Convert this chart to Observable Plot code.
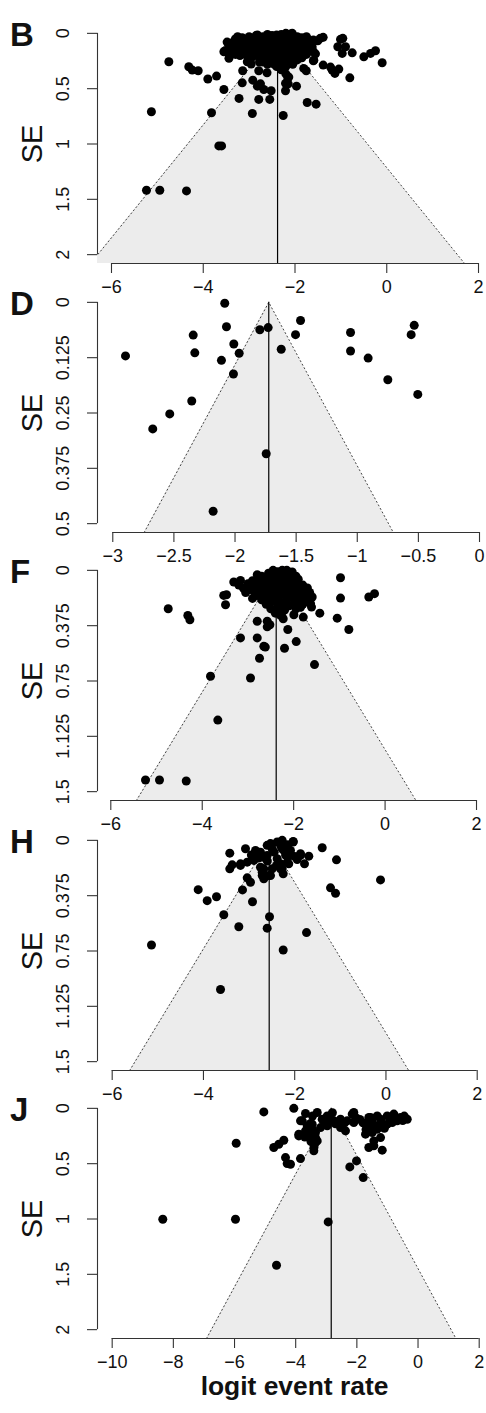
<!DOCTYPE html>
<html><head><meta charset="utf-8">
<script src="https://cdn.jsdelivr.net/npm/d3@7"></script>
<script src="https://cdn.jsdelivr.net/npm/@observablehq/plot@0.6"></script>
<style>
body{margin:0;background:#fff;}
#wrap{position:relative;width:486px;height:1413px;overflow:hidden;background:#fff;}
#wrap svg{position:absolute;left:0;}
</style></head><body><div id="wrap"></div>
<script>
// ---- data: [logit event rate, SE] per study ----
const panelB = [[-4.75,0.257],[-4.315,0.302],[-4.24,0.332],[-4.11,0.338],[-3.90,0.413],[-3.71,0.386],[-3.55,0.507],[-5.13,0.709],[-3.82,0.718],[-3.22,0.588],[-2.93,0.724],[-2.257,0.742],[-3.66,1.017],[-3.60,1.017],[-5.237,1.418],[-4.947,1.418],[-4.365,1.424],[-1.734,0.625],[-1.54,0.640],[-1.967,0.477],[-2.207,0.519],[-2.207,0.452],[-2.157,0.398],[-2.27,0.32],[-2.55,0.597],[-2.79,0.597],[-2.52,0.519],[-2.68,0.507],[-2.82,0.477],[-2.92,0.423],[-3.15,0.447],[-3.14,0.338],[-2.79,0.338],[-2.61,0.356],[-3.04,0.257],[-2.955,0.278],[-3.456,0.166],[-3.44,0.226],[-1.81,0.317],[-1.755,0.338],[-1.59,0.242],[-1.386,0.287],[-1.19,0.332],[-1.045,0.323],[-1.13,0.362],[-0.805,0.402],[-0.5,0.212],[-0.354,0.181],[-0.245,0.157],[-0.10,0.266],[-0.753,0.176],[-1.008,0.054],[-0.958,0.045],[-1.067,0.121],[-0.899,0.121],[-0.971,0.181],[-1.386,0.036],[-1.503,0.067],[-1.625,0.09],[-1.6,0.166],[-1.6,0.248],[-2.752,0.456],[-2.774,0.26],[-2.2,0.366],[-2.135,0.395],[-2.148,0.456],[-1.226,0.305],[-1.553,0.185],[-1.625,0.124],[-1.734,0.049],
[-3.48,0.079],[-3.515,0.154],[-3.44,0.185],[-3.33,0.109],[-3.26,0.063],[-3.55,0.166],
[-3.3,0.05],[-3.15,0.04],[-3.0,0.03],[-2.85,0.02],[-2.7,0.03],[-2.6,0.01],[-2.5,0.02],[-2.4,0.015],[-2.3,0.01],[-2.2,0.0],[-2.1,0.005],[-2.05,0.02],[-1.95,0.03],[-1.85,0.04],[-1.75,0.03],[-2.82,0.015],[-2.06,0],[-1.45,0.045],
[-3.45,0.09],[-3.35,0.08],[-3.2,0.07],[-3.05,0.09],[-2.9,0.06],[-2.75,0.07],[-2.65,0.06],[-2.55,0.08],[-2.45,0.05],[-2.35,0.07],[-2.25,0.06],[-2.15,0.05],[-2.05,0.07],[-1.95,0.06],[-1.85,0.08],[-1.7,0.07],[-1.6,0.06],
[-3.35,0.13],[-3.2,0.12],[-3.1,0.15],[-2.95,0.13],[-2.85,0.11],[-2.7,0.12],[-2.6,0.14],[-2.5,0.11],[-2.4,0.13],[-2.3,0.12],[-2.2,0.1],[-2.1,0.13],[-2.0,0.11],[-1.9,0.12],[-1.8,0.14],[-1.7,0.12],
[-3.3,0.19],[-3.05,0.2],[-2.9,0.18],[-2.75,0.21],[-2.6,0.19],[-2.5,0.17],[-2.4,0.2],[-2.3,0.18],[-2.2,0.21],[-2.1,0.19],[-2.0,0.17],[-1.9,0.2],[-1.75,0.19],
[-2.7,0.26],[-2.55,0.25],[-2.45,0.28],[-2.35,0.24],[-2.25,0.27],[-2.15,0.25],[-2.05,0.28],[-1.95,0.24],
[-3.25,0.03],[-3.1,0.06],[-2.95,0.045],[-2.8,0.05],[-2.65,0.035],[-2.55,0.045],[-2.45,0.03],[-2.35,0.04],[-2.25,0.03],[-2.15,0.025],[-2.0,0.045],[-1.9,0.05],[-1.8,0.055],
[-3.4,0.11],[-3.25,0.1],[-3.15,0.11],[-3.0,0.11],[-2.8,0.095],[-2.65,0.1],[-2.55,0.095],[-2.45,0.1],[-2.35,0.1],[-2.25,0.09],[-2.15,0.085],[-2.05,0.095],[-1.95,0.09],[-1.85,0.105],[-1.75,0.1],[-1.65,0.095],
[-3.4,0.16],[-3.25,0.15],[-3.0,0.16],[-2.8,0.15],[-2.65,0.165],[-2.55,0.155],[-2.45,0.16],[-2.35,0.155],[-2.25,0.15],[-2.15,0.155],[-2.05,0.16],[-1.95,0.15],[-1.85,0.17],[-1.7,0.16],
[-3.2,0.2],[-2.95,0.22],[-2.85,0.2],[-2.65,0.225],[-2.55,0.21],[-2.45,0.23],[-2.35,0.21],[-2.25,0.23],[-2.15,0.22],[-2.05,0.23],[-1.95,0.21],[-1.85,0.22],
[-2.6,0.28],[-2.4,0.3],[-2.3,0.29],[-2.2,0.3],[-2.1,0.27],[-2.3,0.33]];

const panelD = [[-2.084,0.002],[-2.07,0.055],[-2.342,0.074],[-2.896,0.121],[-2.329,0.114],[-2.01,0.094],[-1.966,0.115],[-2.111,0.131],[-2.013,0.162],[-1.797,0.062],[-1.729,0.057],[-1.464,0.041],[-1.505,0.073],[-1.622,0.106],[-1.055,0.068],[-1.055,0.11],[-0.911,0.126],[-0.75,0.175],[-0.534,0.052],[-0.559,0.073],[-0.505,0.208],[-2.354,0.223],[-2.534,0.252],[-2.673,0.286],[-1.745,0.342],[-2.179,0.472]];

const panelF = [[-4.744,0.26],[-4.315,0.306],[-4.27,0.335],[-3.469,0.165],[-3.49,0.233],[-3.53,0.17],[-3.163,0.458],[-2.797,0.458],[-2.797,0.345],[-2.578,0.345],[-2.52,0.369],[-2.653,0.515],[-2.62,0.52],[-2.747,0.596],[-3.819,0.718],[-2.944,0.73],[-3.659,1.015],[-5.241,1.421],[-4.935,1.421],[-4.35,1.428],[-2.2,0.528],[-1.944,0.483],[-2.128,0.401],[-2.228,0.328],[-2.266,0.306],[-1.544,0.639],[-1.79,0.317],[-1.996,0.301],[-1.428,0.29],[-1.609,0.249],[-0.793,0.401],[-1.047,0.324],[-0.975,0.188],[-0.975,0.05],[-0.356,0.181],[-0.231,0.158],[-2.797,0.03],[-3.31,0.079],[-3.163,0.068],[-2.032,0.011],[-1.63,0.226],[-1.594,0.181],[-2.578,0.383],[-2.287,0.304],[-2.215,0.27],
[-2.7,0.04],[-2.55,0.02],[-2.45,0.03],[-2.35,0.01],[-2.25,0.02],[-2.15,0.0],[-2.05,0.02],[-1.95,0.04],[-2.6,0.05],[-2.3,0.045],
[-3.0,0.09],[-2.9,0.07],[-2.8,0.08],[-2.7,0.1],[-2.6,0.08],[-2.5,0.07],[-2.4,0.09],[-2.3,0.08],[-2.2,0.06],[-2.1,0.08],[-2.0,0.07],[-1.9,0.09],[-1.8,0.1],
[-3.05,0.15],[-2.95,0.13],[-2.85,0.15],[-2.75,0.13],[-2.65,0.15],[-2.55,0.12],[-2.45,0.14],[-2.35,0.13],[-2.25,0.15],[-2.15,0.12],[-2.05,0.14],[-1.95,0.13],[-1.85,0.15],[-1.75,0.14],[-1.65,0.15],
[-2.9,0.19],[-2.7,0.2],[-2.55,0.18],[-2.45,0.21],[-2.35,0.19],[-2.25,0.22],[-2.15,0.2],[-2.05,0.18],[-1.95,0.21],[-1.85,0.19],[-1.75,0.2],
[-2.5,0.26],[-2.35,0.25],[-2.2,0.27],[-2.1,0.24],[-1.95,0.26],[-1.85,0.25],[-2.4,0.29],
[-3.2,0.1],[-3.1,0.12],[-2.95,0.1],[-2.85,0.11],[-2.75,0.07],[-2.65,0.11],[-2.55,0.1],[-2.45,0.11],[-2.35,0.1],[-2.25,0.11],[-2.15,0.1],[-2.05,0.11],[-1.95,0.1],[-1.85,0.12],[-1.7,0.12],
[-2.8,0.17],[-2.6,0.17],[-2.5,0.15],[-2.4,0.16],[-2.3,0.17],[-2.2,0.16],[-2.1,0.17],[-2.0,0.16],[-1.9,0.17],[-1.8,0.17],[-1.7,0.18],
[-2.65,0.06],[-2.5,0.05],[-2.4,0.06],[-2.2,0.04],[-2.1,0.05],[-2.0,0.05],[-1.9,0.06],[-2.45,0.0],[-2.25,0.0],
[-2.6,0.23],[-2.3,0.23],[-2.0,0.23],[-1.8,0.23]];

const panelH = [[-5.139,0.709],[-3.626,1.011],[-2.252,0.743],[-1.741,0.625],[-3.225,0.586],[-2.603,0.595],[-2.552,0.518],[-3.554,0.504],[-2.925,0.416],[-3.918,0.409],[-3.714,0.382],[-4.115,0.334],[-3.144,0.336],[-3.041,0.254],[-2.969,0.284],[-2.677,0.261],[-2.53,0.239],[-2.712,0.216],[-2.252,0.227],[-2.274,0.193],[-1.785,0.159],[-1.215,0.322],[-1.105,0.359],[-1.084,0.132],[-0.119,0.268],[-1.397,0.05],[-3.423,0.087],[-3.423,0.193],
[-3.37,0.166],[-3.078,0.057],[-2.859,0.068],[-2.53,0.022],[-2.274,0.0],[-2.033,0.007],[-2.493,0.057],[-2.274,0.057],[-2.092,0.068],[-1.873,0.091],[-1.691,0.107],[-3.188,0.17],[-3.041,0.148],[-2.897,0.136],[-2.712,0.114],[-2.603,0.102],[-2.384,0.125],[-2.164,0.148],[-1.945,0.13],[-2.712,0.239],[-2.568,0.239],[-2.677,0.193],[-2.493,0.193],[-2.311,0.193],[-2.603,0.034],[-2.384,0.011],[-2.033,0.011],[-1.873,0.102],[-2.092,0.102],[-2.239,0.068],[-2.311,0.159],[-2.13,0.159],[-3.188,0.159],[-2.75,0.182],
[-2.95,0.1],[-2.8,0.12],[-2.45,0.08],[-2.2,0.1],[-2.0,0.11],[-2.3,0.04],[-2.15,0.03],[-2.75,0.08],[-2.6,0.14],[-2.4,0.17]];

const panelJ = [[-8.345,1.002],[-5.968,1.002],[-2.937,1.026],[-4.627,1.418],[-5.945,0.315],[-5.042,0.032],[-4.716,0.354],[-4.552,0.324],[-4.389,0.288],[-4.333,0.445],[-4.278,0.499],[-4.17,0.505],[-3.843,0.454],[-3.407,0.384],[-2.23,0.529],[-2.011,0.475],[-1.792,0.626],[-2.371,0.203],[-4.061,0.0],
[-3.679,0.047],[-3.296,0.038],[-2.969,0.068],[-3.787,0.113],[-3.515,0.137],[-3.46,0.188],[-3.679,0.203],[-3.352,0.219],[-3.515,0.264],[-3.352,0.309],[-3.898,0.233],[-3.133,0.098],[-2.861,0.098],[-2.534,0.098],[-2.315,0.113],[-2.1,0.038],[-2.044,0.083],[-1.661,0.143],[-1.553,0.083],[-1.334,0.068],[-1.226,0.098],[-1.007,0.068],[-0.791,0.052],[-0.572,0.083],[-0.353,0.098],[-0.68,0.113],[-1.717,0.233],[-1.498,0.219],[-1.334,0.188],[-1.226,0.264],[-1.445,0.294],[-1.609,0.354],[-1.445,0.339],[-1.171,0.378],[-0.843,0.128],[-1.007,0.143],[-1.39,0.158],[-1.609,0.083],
[-3.842,0.113],[-3.623,0.158],[-3.46,0.143],[-3.188,0.174],[-2.969,0.158],[-2.753,0.113],[-2.534,0.174],[-2.1,0.128],[-2.152,0.052],[-3.898,0.249],[-3.623,0.228],[-3.352,0.264],[-3.296,0.294],
[-1.9,0.1],[-1.8,0.13],[-1.5,0.12],[-1.2,0.13],[-1.1,0.18],[-0.9,0.09],[-0.5,0.11],[-0.45,0.07],[-1.7,0.19],[-1.55,0.17],[-3.05,0.13],[-2.7,0.14],[-2.4,0.13],[-3.7,0.26],[-3.5,0.3],[-3.4,0.35],[-2.8,0.04],[-3.45,0.07]];

// pooled estimates (reference line) per panel
const pooled = {B: -2.38, D: -1.724, F: -2.382, H: -2.559, J: -2.838};
// axis ticks and tick labels
const xTicksB = [-6,-4,-2,0,2];
const xTicksD = [-3,-2.5,-2,-1.5,-1,-0.5,0];
const xTicksF = [-6,-4,-2,0,2];
const xTicksH = [-6,-4,-2,0,2];
const xTicksJ = [-10,-8,-6,-4,-2,0,2];
const seTicksB = ["0","0.5","1","1.5","2"];
const seTicksD = ["0","0.125","0.25","0.375","0.5"];
const seTicksF = ["0","0.375","0.75","1.125","1.5"];
const seTicksH = ["0","0.375","0.75","1.125","1.5"];
const seTicksJ = ["0","0.5","1","1.5","2"];
const letters = ["B","D","F","H","J"];

// ---- layout ----
const layout = [
  {data: panelB, c: pooled.B, xd: [-6.305, 2.087], yd: [-0.08, 2.08], xt: xTicksB, yt: seTicksB, top: 24},
  {data: panelD, c: pooled.D, xd: [-3.125, 0.0245], yd: [-0.02, 0.52], xt: xTicksD, yt: seTicksD, top: 293},
  {data: panelF, c: pooled.F, xd: [-6.291, 2.131], yd: [-0.06, 1.56], xt: xTicksF, yt: seTicksF, top: 561},
  {data: panelH, c: pooled.H, xd: [-6.322, 2.116], yd: [-0.06, 1.56], xt: xTicksH, yt: seTicksH, top: 831},
  {data: panelJ, c: pooled.J, xd: [-10.48, 2.108], yd: [-0.08, 2.08], xt: xTicksJ, yt: seTicksJ, top: 1099}
];
const FONT = "'Liberation Sans', Arial, Helvetica, sans-serif";
const PH = 239;
const fmt = d => (d < 0 ? "\u2212" : "") + String(Math.abs(d));
const wrap = document.getElementById("wrap");

layout.forEach((p, i) => {
  const last = i === layout.length - 1;
  const mb = last ? 75 : 40;
  const H = 24 + PH + mb;
  const yb = p.yd[1];
  const pts = p.data.map(([v, se]) => ({v, se}));
  const edge = [{v: p.c - 1.96*yb, se: yb}, {v: p.c, se: 0}, {v: p.c + 1.96*yb, se: yb}];
  const band = [{se: 0, a: p.c, b: p.c}, {se: yb, a: p.c - 1.96*yb, b: p.c + 1.96*yb}];
  const yTickObjs = p.yt.map(s => ({v: +s, s}));
  const marks = [
    Plot.areaX(band, {y: "se", x1: "a", x2: "b", fill: "#ececec", clip: true}),
    Plot.line(edge, {x: "v", y: "se", stroke: "#444", strokeWidth: 1, strokeDasharray: "1.2,2.8", clip: true}),
    Plot.ruleX([p.c], {y1: 0, y2: yb, stroke: "#000", strokeWidth: 1.2}),
    Plot.dot(pts, {x: "v", y: "se", r: 4.5, fill: "#000", stroke: null}),
    Plot.ruleY([yb], {x1: p.xt[0], x2: p.xt[p.xt.length-1], stroke: "#333", strokeWidth: 1.1}),
    Plot.ruleX([p.xd[0]], {y1: yTickObjs[0].v, y2: yTickObjs[yTickObjs.length-1].v, stroke: "#333", strokeWidth: 1.1}),
    Plot.axisX({ticks: p.xt, tickSize: 10, tickPadding: 7, fontSize: 18, tickFormat: fmt, label: null, stroke: "#333", strokeWidth: 1.1}),
    Plot.axisY({ticks: p.yt.map(Number), tickSize: 10, tickFormat: () => "", label: null, stroke: "#333", strokeWidth: 1.1}),
    Plot.text(yTickObjs, {x: p.xd[0], y: "v", text: "s", rotate: -90, dx: -34, fontSize: 18, textAnchor: "middle"}),
    Plot.text([letters[i]], {frameAnchor: "top-left", dx: -87.5, dy: -2, fontSize: 33, fontWeight: "bold", textAnchor: "start"}),
    Plot.text(["SE"], {frameAnchor: "left", rotate: -90, dx: -65, fontSize: 29, textAnchor: "middle"})
  ];
  if (last) marks.push(Plot.text(["logit event rate"], {frameAnchor: "bottom", dy: 56, dx: 4.5, fontSize: 26.4, fontWeight: "bold"}));
  const svg = Plot.plot({
    width: 486, height: H,
    marginLeft: 97, marginRight: 4, marginTop: 24, marginBottom: mb,
    x: {domain: p.xd, label: null},
    y: {domain: p.yd, reverse: true, label: null},
    style: {background: "transparent", overflow: "visible", fontFamily: FONT, fontSize: "18px", color: "#111"},
    marks
  });
  svg.style.top = (p.top - 24) + "px";
  wrap.appendChild(svg);
});
</script></body></html>
